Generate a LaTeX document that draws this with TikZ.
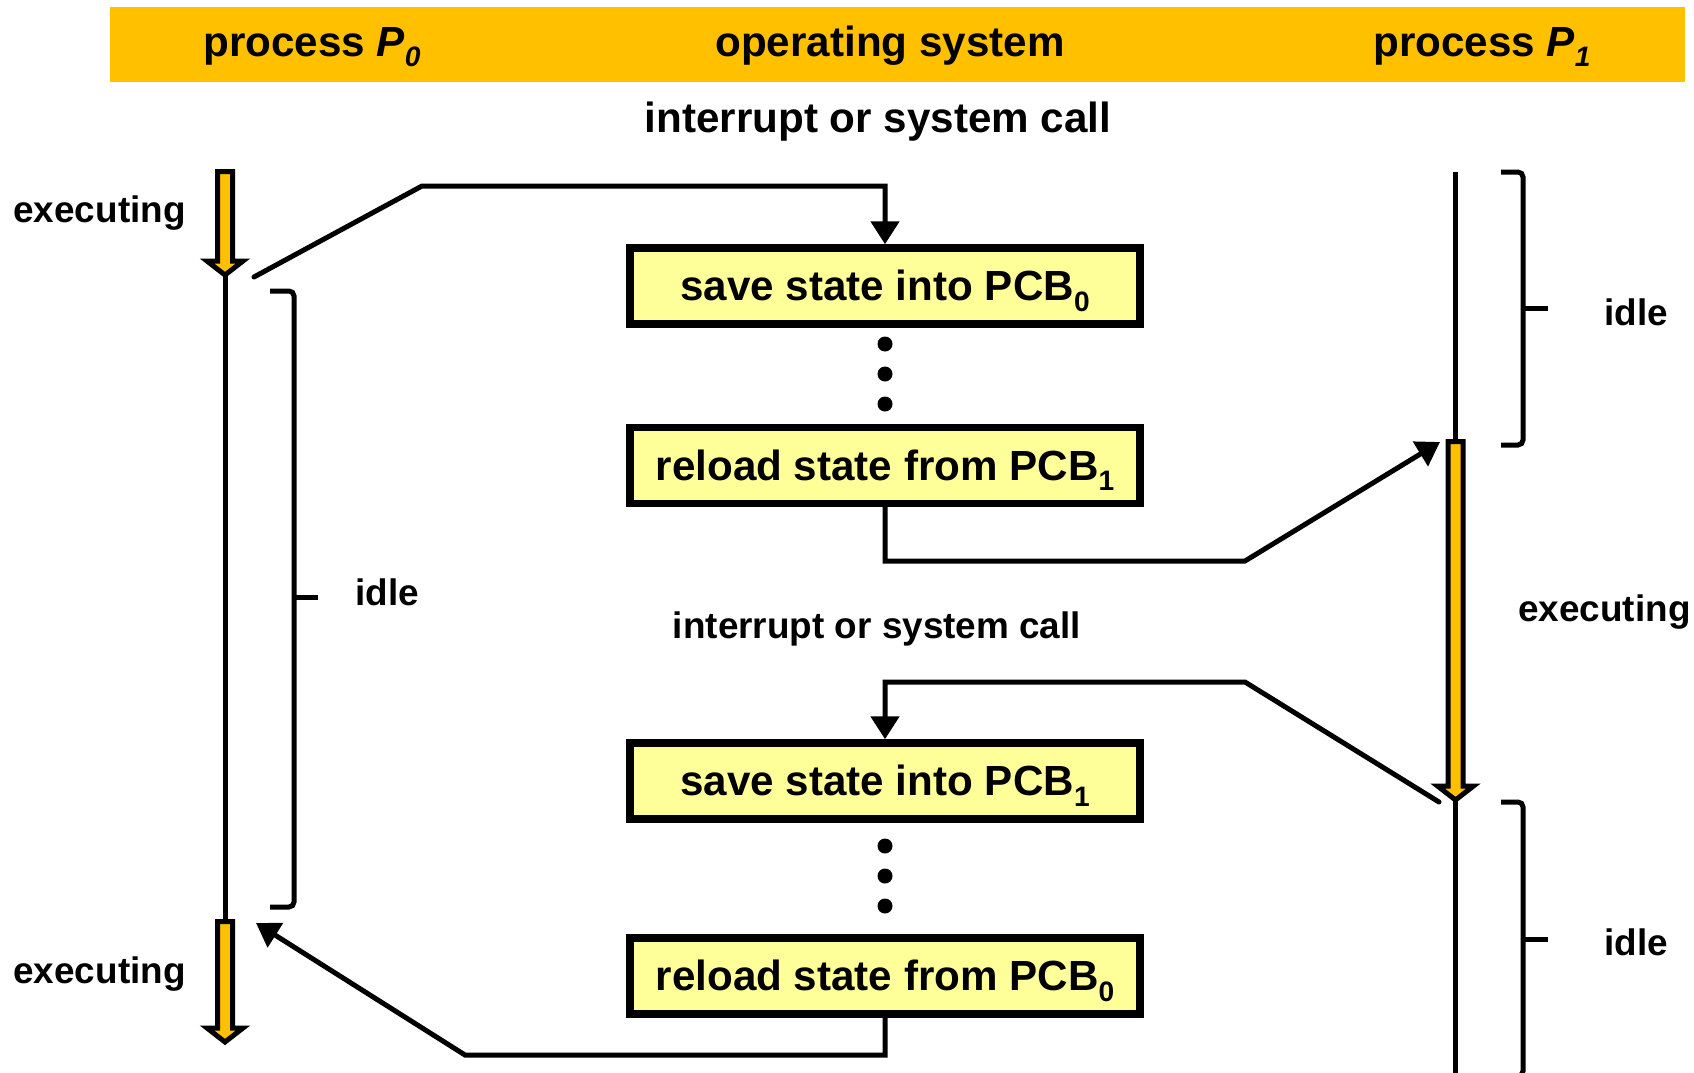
\documentclass[tikz,border=0pt]{standalone}
\usepackage{fontspec}
\setmainfont{Liberation Sans}
\usetikzlibrary{arrows.meta}

\definecolor{runorange}{HTML}{FFC000}
\definecolor{pcbyellow}{HTML}{FFFF99}
\newcommand{\hdrfont}{\fontsize{24}{28}\selectfont\bfseries}
\newcommand{\lblfont}{\fontsize{21}{25}\selectfont\bfseries}
\newcommand{\idx}[1]{\raisebox{-6pt}{\fontsize{16}{16}\selectfont #1}}
% running arrow: x, top, tip
\newcommand{\runarrow}[3]{%
  \draw[runline] (#1-7.5,#2) -- (#1+7.5,#2) -- (#1+7.5,#3-14) -- (#1+18,#3-14)
    -- (#1,#3) -- (#1-18,#3-14) -- (#1-7.5,#3-14) -- cycle;}

\begin{document}
\begin{tikzpicture}[x=0.02cm, y=-0.02cm,
    hdr/.style={font=\hdrfont, inner sep=0},
    lbl/.style={font=\lblfont, inner sep=0},
    pcbbox/.style={draw, line width=0.15cm, fill=pcbyellow, minimum width=10.2cm, minimum height=1.52cm,
                   inner sep=0, text height=17pt, text depth=0pt, font=\hdrfont},
    dot/.style={circle, fill, inner sep=0, minimum size=0.3cm},
    conn/.style={line width=0.1cm, line cap=round, -{Triangle[width=0.56cm, length=0.46cm]}},
    tline/.style={line width=0.1cm},
    brk/.style={line width=0.1cm, rounded corners=0.1cm},
    runline/.style={draw=black, fill=runorange, line width=0.1cm, line join=miter}]
    \useasboundingbox (0,0) rectangle (1694,1072);

    % header
    \node[fill=runorange, minimum width=31.5cm, minimum height=1.5cm, inner sep=0] (header) at (897.5,44.5) {};
    \node[hdr, anchor=base] (p0) at (312,56) {process \textit{P\idx{0}}};
    \node[hdr, anchor=base] (os) at (890,56) {operating system};
    \node[hdr, anchor=base] (p1) at (1482,56) {process \textit{P\idx{1}}};

    % operating system boxes
    \node[hdr, anchor=base] (call0) at (878,132) {interrupt or system call};
    \node[pcbbox] (save0) at (885,286) {save state into PCB\idx{0}};
    \node[dot] (d1) at (885,344) {};
    \node[dot] (d2) at (885,374) {};
    \node[dot] (d3) at (885,404) {};
    \node[pcbbox] (load1) at (885,465.5) {reload state from PCB\idx{1}};
    \node[lbl, anchor=base] (call1) at (877,638) {interrupt or system call};
    \node[pcbbox] (save1) at (885,781) {save state into PCB\idx{1}};
    \node[dot] (d4) at (885,846) {};
    \node[dot] (d5) at (885,876) {};
    \node[dot] (d6) at (885,906) {};
    \node[pcbbox] (load0) at (885,976) {reload state from PCB\idx{0}};

    % process P0
    \runarrow{225}{171.5}{275}
    \runarrow{225}{921.5}{1042}
    \draw[tline] (225,275) -- (225,921.5);
    \node[lbl, anchor=base east] (exec0a) at (186,222) {executing};
    \node[lbl, anchor=base east] (exec0b) at (186,983) {executing};
    \draw[brk] (270,291) -| (294,907) -- (270,907);
    \draw[tline] (294,597) -- (318,597);
    \node[lbl, anchor=base] (idle0) at (387,605) {idle};

    % process P1
    \runarrow{1455.5}{441.5}{800}
    \draw[tline] (1455.5,172) -- (1455.5,441.5);
    \draw[tline] (1455.5,800) -- (1455.5,1080);
    \node[lbl, anchor=base west] (exec1) at (1518,621) {executing};
    \draw[brk] (1501,172) -| (1523,445) -- (1501,445);
    \draw[tline] (1523,308) -- (1548,308);
    \node[lbl, anchor=base] (idle1a) at (1636,325) {idle};
    \draw[brk] (1501,802) -| (1523,1076) -- (1501,1076);
    \draw[tline] (1523,939) -- (1548,939);
    \node[lbl, anchor=base] (idle1b) at (1636,955) {idle};

    % switches
    \coordinate (out0) at (254,277);
    \coordinate (in1) at (1440,442);
    \coordinate (out1) at (1439,802);
    \coordinate (in0) at (256,923);
    \draw[conn] (out0) -- (422,186) -| (save0.north);
    \draw[conn] (load1.south) |- (1245,561) -- (in1);
    \draw[conn] (out1) -- (1245,682) -| (save1.north);
    \draw[conn] (load0.south) |- (465,1055) -- (in0);
\end{tikzpicture}
\end{document}
